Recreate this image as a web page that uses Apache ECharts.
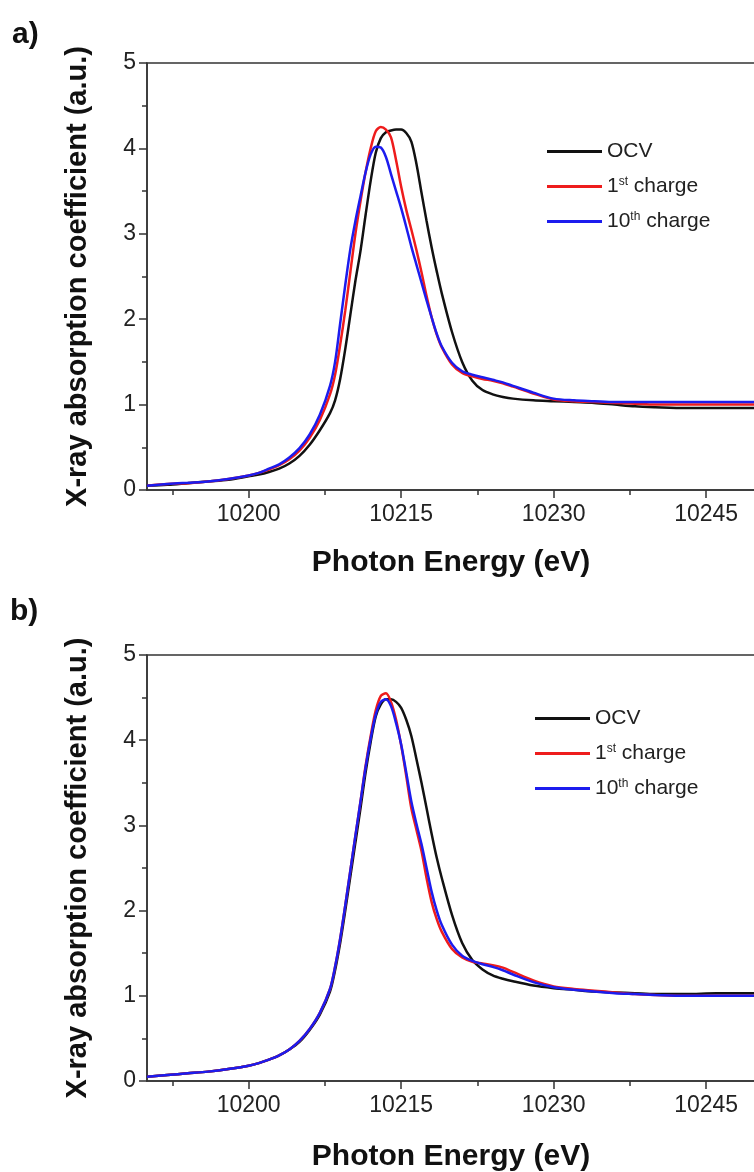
<!DOCTYPE html>
<html>
<head>
<meta charset="utf-8">
<script src="https://cdn.jsdelivr.net/npm/echarts@6/dist/echarts.min.js"></script>
<style>
html,body{margin:0;padding:0;background:#fff;overflow:hidden;}
#chart{width:757px;height:1172px;}
</style>
</head>
<body>
<div id="chart"></div>
<script>
// ---- data ----
const energy = [10190,10192,10194,10196,10198,10200,10201,10202,10203,10204,10205,10206,10207,
  10208,10208.5,10209,10209.5,10210,10210.5,10211,10211.5,10212,10212.5,10213,10213.5,10214,10214.5,
  10215,10215.5,10216,10216.5,10217,10217.5,10218,10218.5,10219,
  10220,10221,10222,10223,10224,10225,10226,10228,10230,10232,10234,10236,10238,10240,10243,10246,10250];

const ocvA = [0.05,0.06,0.08,0.10,0.12,0.16,0.18,0.21,0.25,0.31,0.40,0.53,0.70,
  0.90,1.05,1.30,1.65,2.05,2.45,2.80,3.22,3.62,3.95,4.12,4.19,4.21,4.22,
  4.22,4.18,4.08,3.82,3.48,3.15,2.84,2.56,2.30,
  1.85,1.50,1.28,1.17,1.12,1.09,1.07,1.05,1.04,1.03,1.02,1.00,0.98,0.97,0.96,0.96,0.96];
const firstA = [0.05,0.07,0.08,0.10,0.13,0.17,0.20,0.24,0.29,0.36,0.46,0.61,0.82,
  1.12,1.35,1.70,2.10,2.55,3.00,3.38,3.72,4.00,4.20,4.25,4.22,4.13,3.86,
  3.55,3.28,3.05,2.81,2.55,2.27,2.02,1.82,1.67,
  1.47,1.37,1.33,1.30,1.28,1.25,1.21,1.13,1.06,1.04,1.03,1.02,1.01,1.00,1.00,1.00,1.00];
const tenthA = [0.05,0.07,0.085,0.10,0.13,0.17,0.20,0.25,0.30,0.38,0.49,0.65,0.88,
  1.22,1.50,1.95,2.40,2.82,3.15,3.44,3.72,3.93,4.02,4.01,3.90,3.70,3.50,
  3.30,3.08,2.85,2.64,2.43,2.22,2.02,1.83,1.68,
  1.49,1.39,1.35,1.32,1.29,1.26,1.22,1.14,1.07,1.05,1.04,1.03,1.03,1.03,1.03,1.03,1.03];

const ocvB = [0.05,0.07,0.09,0.11,0.14,0.18,0.21,0.25,0.30,0.37,0.46,0.60,0.78,
  1.05,1.30,1.62,2.00,2.40,2.80,3.20,3.62,3.98,4.28,4.42,4.48,4.48,4.45,
  4.38,4.24,4.05,3.78,3.50,3.20,2.90,2.62,2.38,
  1.95,1.62,1.42,1.31,1.24,1.20,1.17,1.12,1.09,1.07,1.05,1.04,1.03,1.02,1.02,1.03,1.03];
const firstB = [0.05,0.07,0.09,0.11,0.14,0.18,0.21,0.25,0.30,0.37,0.47,0.61,0.80,
  1.08,1.34,1.67,2.06,2.47,2.88,3.28,3.70,4.05,4.35,4.52,4.55,4.45,4.24,
  3.94,3.58,3.20,2.95,2.70,2.38,2.10,1.90,1.75,
  1.55,1.45,1.40,1.38,1.36,1.33,1.28,1.18,1.11,1.08,1.06,1.04,1.02,1.01,1.00,1.00,1.00];
const tenthB = [0.05,0.07,0.09,0.11,0.14,0.18,0.21,0.25,0.30,0.37,0.47,0.61,0.80,
  1.08,1.34,1.67,2.06,2.47,2.88,3.28,3.68,4.02,4.30,4.45,4.48,4.40,4.20,
  3.95,3.62,3.28,3.02,2.78,2.50,2.22,2.00,1.83,
  1.60,1.47,1.41,1.37,1.34,1.30,1.25,1.16,1.10,1.07,1.05,1.03,1.02,1.01,1.00,1.00,1.00];

const seriesNames = ['OCV', '1st charge', '10th charge'];
const xMajorTicks = [10200, 10215, 10230, 10245];
const xMinorTicks = [10192.5, 10207.5, 10222.5, 10237.5];
const xTitle = 'Photon Energy (eV)';
const yTitle = 'X-ray absorption coefficient (a.u.)';
const panelLabels = ['a)', 'b)'];

// ---- styling ----
const FONT = '"Liberation Sans", Arial, Helvetica, sans-serif';
const AX = '#333';
const colors = ['#111111', '#ee1c1c', '#1c1cee'];
const panels = [
  {top: 63, height: 427, legendLeft: 547, legendTop: 141, xTitleY: 563, data: [ocvA, firstA, tenthA]},
  {top: 655, height: 426, legendLeft: 535, legendTop: 708, xTitleY: 1157, data: [ocvB, firstB, tenthB]}
];

const zip = arr => energy.map((e, i) => [e, arr[i]]);

const grids = [], xAxes = [], yAxes = [], series = [], legends = [], graphics = [];
panels.forEach((p, gi) => {
  grids.push({left: 147, right: 0, top: p.top, height: p.height, show: true,
    borderColor: AX, borderWidth: 1.5, backgroundColor: 'transparent'});
  xAxes.push({type: 'value', gridIndex: gi, min: 10190, max: 10250, position: 'bottom',
    axisLine: {show: true, onZero: false, lineStyle: {color: AX, width: 1.5}},
    axisTick: {show: true, length: 8, lineStyle: {color: AX, width: 1.5}, customValues: xMajorTicks},
    axisLabel: {show: true, customValues: xMajorTicks, formatter: v => String(v),
      fontFamily: FONT, fontSize: 23, color: '#222', margin: 13},
    splitLine: {show: false}});
  xAxes.push({type: 'value', gridIndex: gi, min: 10190, max: 10250, position: 'bottom',
    axisLine: {show: false},
    axisTick: {show: true, length: 5, lineStyle: {color: AX, width: 1.5}, customValues: xMinorTicks},
    axisLabel: {show: false}, splitLine: {show: false}});
  yAxes.push({type: 'value', gridIndex: gi, min: 0, max: 5, interval: 1,
    axisLine: {show: true, lineStyle: {color: AX, width: 1.5}},
    axisTick: {show: true, length: 8, lineStyle: {color: AX, width: 1.5}},
    minorTick: {show: true, splitNumber: 2, length: 5, lineStyle: {color: AX, width: 1.5}},
    axisLabel: {fontFamily: FONT, fontSize: 23, color: '#222', margin: 11},
    splitLine: {show: false}});
  p.data.forEach((arr, si) => {
    series.push({name: seriesNames[si], type: 'line', xAxisIndex: gi * 2, yAxisIndex: gi,
      data: zip(arr), showSymbol: false, smooth: 0.3, z: 2 + si,
      lineStyle: {color: colors[si], width: 2.5}, itemStyle: {color: colors[si]}});
  });
  legends.push({orient: 'vertical', left: p.legendLeft, top: p.legendTop, padding: 0,
    data: seriesNames, icon: 'rect', itemWidth: 55, itemHeight: 3, itemGap: 14,
    selectedMode: false,
    formatter: n => n === '1st charge' ? '1{s|st} charge' : (n === '10th charge' ? '10{s|th} charge' : n),
    textStyle: {fontFamily: FONT, fontSize: 21, color: '#222', padding: [0, 0, 0, 0],
      rich: {s: {fontFamily: FONT, fontSize: 12, color: '#222', verticalAlign: 'top', padding: [0, 0, 8, 0]}}}});
  const midY = p.top + p.height / 2;
  graphics.push({type: 'text', left: gi === 0 ? 12 : 10, top: gi === 0 ? 20 : 597,
    style: {text: panelLabels[gi], font: 'bold 30px ' + FONT, fill: '#111'}});
  graphics.push({type: 'text', x: 78, y: midY, rotation: Math.PI / 2,
    style: {text: yTitle, font: 'bold 29px ' + FONT, fill: '#111', align: 'center', verticalAlign: 'middle'}});
  graphics.push({type: 'text', x: 451, y: p.xTitleY,
    style: {text: xTitle, font: 'bold 30px ' + FONT, fill: '#111', align: 'center', verticalAlign: 'middle'}});
});

const chart = echarts.init(document.getElementById('chart'), null, {renderer: 'canvas'});
chart.setOption({
  animation: false,
  backgroundColor: '#fff',
  grid: grids, xAxis: xAxes, yAxis: yAxes, series: series, legend: legends, graphic: graphics
});
</script>
</body>
</html>
